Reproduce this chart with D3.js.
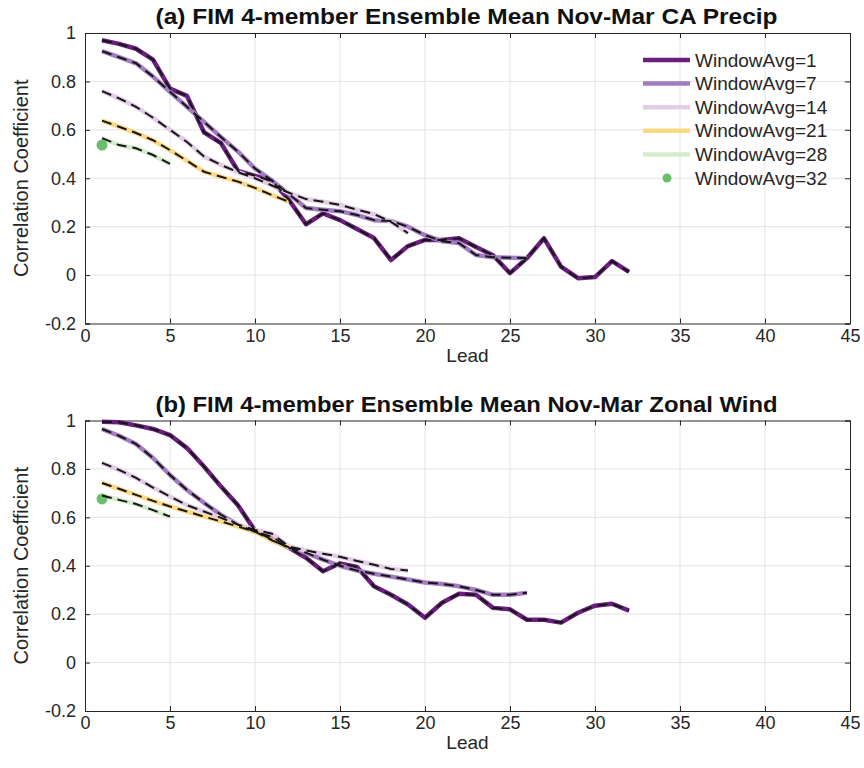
<!DOCTYPE html>
<html>
<head>
<meta charset="utf-8">
<script src="https://cdn.jsdelivr.net/npm/d3@7"></script>
<style>
  body { margin: 0; background: #fff; }
  svg { font-family: "Liberation Sans", Arial, Helvetica, sans-serif; }
</style>
</head>
<body>
<svg width="864" height="768"></svg>
<script>
// series labels and colours (legend order)
var windows = [1, 7, 14, 21, 28, 32];
var colors = ['#6a1f7e', '#a27cc0', '#e3cde6', '#fdd882', '#d4eccd', '#6cbf6a'];

var titles = [
    '(a) FIM 4-member Ensemble Mean Nov-Mar CA Precip',
    '(b)  FIM 4-member Ensemble Mean Nov-Mar Zonal Wind'
];

var xTicks = [0, 5, 10, 15, 20, 25, 30, 35, 40, 45];
var yTicks = [-0.2, 0, 0.2, 0.4, 0.6, 0.8, 1];
var yTickLabels = ['-0.2', '0', '0.2', '0.4', '0.6', '0.8', '1'];

// (a) CA precip, correlation by lead (lead starts at 1)
var precipW1 = [0.97, 0.955, 0.935, 0.89, 0.77, 0.74, 0.59, 0.545, 0.43, 0.41, 0.39, 0.31,
    0.21, 0.255, 0.227, 0.19, 0.153, 0.062, 0.12, 0.145, 0.145, 0.152, 0.116, 0.082,
    0.008, 0.07, 0.152, 0.035, -0.013, -0.008, 0.058, 0.013];
var precipW7 = [0.925, 0.9, 0.875, 0.82, 0.757, 0.695, 0.633, 0.57, 0.51, 0.44, 0.39, 0.335,
    0.277, 0.27, 0.264, 0.248, 0.227, 0.223, 0.2, 0.165, 0.14, 0.132, 0.083, 0.074, 0.072, 0.07];
var precipW14 = [0.76, 0.73, 0.695, 0.65, 0.6, 0.55, 0.49, 0.455, 0.425, 0.4, 0.37, 0.34,
    0.314, 0.303, 0.29, 0.27, 0.252, 0.22, 0.173];
var precipW21 = [0.638, 0.613, 0.587, 0.557, 0.516, 0.472, 0.427, 0.406, 0.386, 0.36, 0.33, 0.303];
var precipW28 = [0.566, 0.537, 0.524, 0.496, 0.459];
var precipW32 = [0.537];

// (b) zonal wind
var windW1 = [0.995, 0.993, 0.98, 0.965, 0.94, 0.886, 0.81, 0.727, 0.65, 0.545, 0.507, 0.474,
    0.433, 0.377, 0.41, 0.395, 0.315, 0.28, 0.24, 0.185, 0.247, 0.284, 0.28, 0.226, 0.22,
    0.177, 0.177, 0.165, 0.206, 0.235, 0.243, 0.215];
var windW7 = [0.965, 0.937, 0.903, 0.845, 0.775, 0.713, 0.66, 0.61, 0.57, 0.54, 0.52, 0.474,
    0.454, 0.425, 0.4, 0.38, 0.367, 0.355, 0.343, 0.331, 0.325, 0.315, 0.3, 0.28, 0.28, 0.288];
var windW14 = [0.825, 0.796, 0.763, 0.723, 0.686, 0.65, 0.624, 0.598, 0.57, 0.548, 0.532, 0.48,
    0.463, 0.45, 0.437, 0.42, 0.404, 0.387, 0.38];
var windW21 = [0.742, 0.718, 0.693, 0.668, 0.645, 0.624, 0.603, 0.583, 0.562, 0.541, 0.505, 0.476];
var windW28 = [0.69, 0.672, 0.655, 0.63, 0.603];
var windW32 = [0.676];

var panels = [
    { title: titles[0], top: 33, series: [precipW1, precipW7, precipW14, precipW21, precipW28, precipW32], legend: true },
    { title: titles[1], top: 420.5, series: [windW1, windW7, windW14, windW21, windW28, windW32], legend: false }
];

var left = 85, right = 850, plotH = 290.5;
var svg = d3.select('svg');

panels.forEach(function (p) {
    var x = d3.scaleLinear().domain([0, 45]).range([left, right]);
    var y = d3.scaleLinear().domain([-0.2, 1]).range([p.top + plotH, p.top]);
    var g = svg.append('g');

    // grid
    g.selectAll('line.vg').data(xTicks.slice(1, -1)).enter().append('line')
        .attr('x1', d => x(d)).attr('x2', d => x(d))
        .attr('y1', y(-0.2)).attr('y2', y(1))
        .attr('stroke', '#e4e4e4').attr('stroke-width', 1);
    g.selectAll('line.hg').data(yTicks.slice(1, -1)).enter().append('line')
        .attr('y1', d => y(d)).attr('y2', d => y(d))
        .attr('x1', left).attr('x2', right)
        .attr('stroke', '#e4e4e4').attr('stroke-width', 1);

    // axes (ticks inward, like matlab)
    var xAxis = d3.axisBottom(x).tickValues(xTicks).tickSize(-5).tickPadding(9);
    var yAxis = d3.axisLeft(y).tickValues(yTicks).tickSize(-5).tickPadding(9)
        .tickFormat((d, i) => yTickLabels[i]);
    var xa = g.append('g').attr('transform', 'translate(0,' + y(-0.2) + ')').call(xAxis);
    var ya = g.append('g').attr('transform', 'translate(' + left + ',0)').call(yAxis);
    var xTop = g.append('g').attr('transform', 'translate(0,' + y(1) + ')')
        .call(d3.axisTop(x).tickValues(xTicks).tickSize(-5).tickFormat(''));
    var yRight = g.append('g').attr('transform', 'translate(' + right + ',0)')
        .call(d3.axisRight(y).tickValues(yTicks).tickSize(-5).tickFormat(''));
    [xa, ya, xTop, yRight].forEach(function (a) {
        a.select('.domain').attr('stroke', '#262626');
        a.selectAll('.tick line').attr('stroke', '#262626');
        a.selectAll('.tick text').attr('fill', '#262626').attr('font-size', 18)
            .attr('font-family', '"Liberation Sans", Arial, sans-serif');
    });
    xa.selectAll('.tick text').attr('dy', '0.5em');

    // series: colored line with black dashes on top
    var line = d3.line().x((d, i) => x(i + 1)).y(d => y(d));
    p.series.forEach(function (s, k) {
        if (s.length === 1) {
            g.append('circle').attr('cx', x(1)).attr('cy', y(s[0])).attr('r', 5.5)
                .attr('fill', colors[k]);
            return;
        }
        g.append('path').datum(s).attr('d', line)
            .attr('fill', 'none').attr('stroke', colors[k]).attr('stroke-width', 4.5)
            .attr('stroke-linejoin', 'round');
    });
    p.series.forEach(function (s, k) {
        if (s.length === 1) return;
        g.append('path').datum(s).attr('d', line)
            .attr('fill', 'none').attr('stroke', '#151515').attr('stroke-width', 2)
            .attr('stroke-dasharray', '10,6');
    });

    // titles and labels
    g.append('text').attr('x', (left + right) / 2 - 1).attr('y', p.top - 9)
        .attr('text-anchor', 'middle').attr('font-weight', 'bold').attr('font-size', 22)
        .attr('textLength', 622).attr('lengthAdjust', 'spacingAndGlyphs')
        .attr('fill', '#111').text(p.title);
    g.append('text').attr('x', (left + right) / 2).attr('y', y(-0.2) + 38)
        .attr('text-anchor', 'middle').attr('font-size', 19).attr('fill', '#262626').text('Lead');
    g.append('text')
        .attr('transform', 'translate(28,' + (p.top + plotH / 2) + ') rotate(-90)')
        .attr('text-anchor', 'middle').attr('font-size', 20).attr('fill', '#262626')
        .text('Correlation Coefficient');

    if (p.legend) {
        var lg = g.append('g').attr('transform', 'translate(643,60)');
        windows.forEach(function (w, k) {
            var row = lg.append('g').attr('transform', 'translate(0,' + k * 23.6 + ')');
            if (k === windows.length - 1) {
                row.append('circle').attr('cx', 24).attr('cy', 0).attr('r', 4.5).attr('fill', colors[k]);
            } else {
                row.append('line').attr('x1', 0).attr('x2', 47).attr('y1', 0).attr('y2', 0)
                    .attr('stroke', colors[k]).attr('stroke-width', 4.5);
            }
            row.append('text').attr('x', 52).attr('y', 0).attr('dy', '0.35em')
                .attr('font-size', 19).attr('fill', '#262626').text('WindowAvg=' + w);
        });
    }
});
</script>
</body>
</html>
